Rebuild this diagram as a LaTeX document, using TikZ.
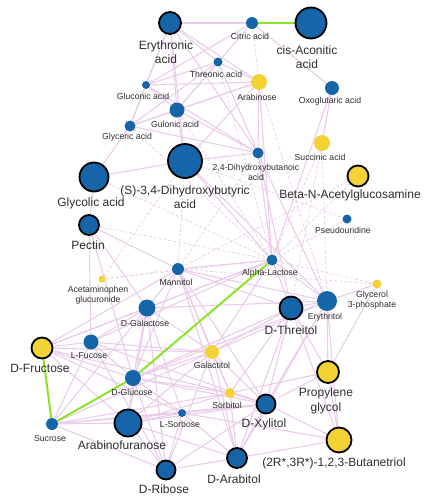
\documentclass[tikz,border=0pt]{standalone}
\usepackage{fontspec}
\setmainfont{Liberation Sans}
\usetikzlibrary{backgrounds}

\definecolor{metblue}{RGB}{22,101,168}
\definecolor{metyellow}{RGB}{242,210,52}
\definecolor{linkpink}{RGB}{234,204,234}
\definecolor{linkgreen}{RGB}{140,228,40}
\definecolor{labelgray}{RGB}{45,45,45}

\begin{document}
\begin{tikzpicture}[x=1pt, y=-1pt,
    met/.style={circle, inner sep=0pt, fill=metblue},
    ymet/.style={circle, inner sep=0pt, fill=metyellow},
    hub/.style={met, draw=black, line width=1.8pt},
    yhub/.style={ymet, draw=black, line width=1.8pt},
    lbl/.style={font=\fontsize{8.7}{10.2}\selectfont, text=labelgray, align=center, inner sep=0pt},
    biglbl/.style={font=\fontsize{12}{14.5}\selectfont, text=labelgray, align=center, inner sep=0pt},
    link/.style={draw=linkpink, line width=1.1pt},
    dlink/.style={draw=linkpink, line width=0.7pt, dash pattern=on 3pt off 2pt},
    glink/.style={draw=linkgreen, line width=2pt}
]
\useasboundingbox (0,0) rectangle (431,504);

% metabolites
\node[hub, minimum size=22pt] (ery) at (170,23) {};
\node[met, minimum size=12pt] (cit) at (252,23) {};
\node[hub, minimum size=31pt] (cis) at (311,23) {};
\node[met, minimum size=9pt] (thr) at (218,62) {};
\node[ymet, minimum size=16pt] (arab) at (259,82) {};
\node[met, minimum size=14pt] (oxo) at (332,88) {};
\node[met, minimum size=8pt] (glcn) at (146,85) {};
\node[met, minimum size=15pt] (guln) at (177,110) {};
\node[met, minimum size=11pt] (glyr) at (130,126) {};
\node[ymet, minimum size=16pt] (succ) at (322,143) {};
\node[met, minimum size=11pt] (dhba) at (258,153) {};
\node[hub, minimum size=34pt] (shb) at (185,161) {};
\node[hub, minimum size=29pt] (glyc) at (94,177) {};
\node[yhub, minimum size=21pt] (betan) at (358,176) {};
\node[hub, minimum size=20pt] (pect) at (89,225) {};
\node[met, minimum size=9pt] (pseu) at (347,219) {};
\node[met, minimum size=11pt] (alac) at (272,260) {};
\node[ymet, minimum size=7pt] (acet) at (102,279) {};
\node[met, minimum size=12pt] (mann) at (178,269) {};
\node[ymet, minimum size=9pt] (g3p) at (377,284) {};
\node[met, minimum size=20pt] (eryt) at (327,301) {};
\node[hub, minimum size=23pt] (thre) at (291,308) {};
\node[met, minimum size=17pt] (dgal) at (147,308) {};
\node[yhub, minimum size=21pt] (dfru) at (42,348) {};
\node[met, minimum size=15pt] (lfuc) at (91,342) {};
\node[ymet, minimum size=14pt] (galt) at (212,352) {};
\node[met, minimum size=16pt] (dglc) at (133,378) {};
\node[ymet, minimum size=10pt] (sorb) at (230,393) {};
\node[hub, minimum size=19pt] (dxyl) at (266,404) {};
\node[yhub, minimum size=22pt] (prop) at (328,372) {};
\node[met, minimum size=8pt] (lsor) at (182,413) {};
\node[met, minimum size=12pt] (sucr) at (52,424) {};
\node[hub, minimum size=27pt] (araf) at (128,423) {};
\node[hub, minimum size=19pt] (drib) at (166,470) {};
\node[hub, minimum size=20pt] (dara) at (237,458) {};
\node[yhub, minimum size=25pt] (buta) at (339,440) {};

% labels
\node[biglbl] (ery-l) at (166,52) {Erythronic\\acid};
\node[lbl] (cit-l) at (250,36) {Citric acid};
\node[biglbl] (cis-l) at (307,57) {cis-Aconitic\\acid};
\node[lbl] (thr-l) at (216,74) {Threonic acid};
\node[lbl] (arab-l) at (257,97) {Arabinose};
\node[lbl] (oxo-l) at (330,101) {Oxoglutaric acid};
\node[lbl] (glcn-l) at (143,96) {Gluconic acid};
\node[lbl] (guln-l) at (175,124) {Gulonic acid};
\node[lbl] (glyr-l) at (127,137) {Glyceric acid};
\node[lbl] (succ-l) at (320,157) {Succinic acid};
\node[lbl] (dhba-l) at (256,172) {2,4-Dihydroxybutanoic\\acid};
\node[biglbl] (shb-l) at (185,197) {(S)-3,4-Dihydroxybutyric\\acid};
\node[biglbl] (glyc-l) at (91,203) {Glycolic acid};
\node[biglbl] (betan-l) at (350,195) {Beta-N-Acetylglucosamine};
\node[biglbl] (pect-l) at (88,245) {Pectin};
\node[lbl] (pseu-l) at (343,230) {Pseudouridine};
\node[lbl] (alac-l) at (270,273) {Alpha-Lactose};
\node[lbl] (acet-l) at (98,295) {Acetaminophen\\glucuronide};
\node[lbl] (mann-l) at (176,282) {Mannitol};
\node[lbl] (g3p-l) at (372,300) {Glycerol\\3-phosphate};
\node[lbl] (eryt-l) at (325,317) {Erythritol};
\node[biglbl] (thre-l) at (291,330) {D-Threitol};
\node[lbl] (dgal-l) at (145,323) {D-Galactose};
\node[biglbl] (dfru-l) at (40,368) {D-Fructose};
\node[lbl] (lfuc-l) at (89,356) {L-Fucose};
\node[lbl] (galt-l) at (212,365) {Galactitol};
\node[lbl] (dglc-l) at (132,392) {D-Glucose};
\node[lbl] (sorb-l) at (227,405) {Sorbitol};
\node[biglbl] (dxyl-l) at (264,424) {D-Xylitol};
\node[biglbl] (prop-l) at (326,401) {Propylene\\glycol};
\node[lbl] (lsor-l) at (180,424) {L-Sorbose};
\node[lbl] (sucr-l) at (50,438) {Sucrose};
\node[biglbl] (araf-l) at (122,445) {Arabinofuranose};
\node[biglbl] (drib-l) at (164,489) {D-Ribose};
\node[biglbl] (dara-l) at (234,479) {D-Arabitol};
\node[biglbl] (buta-l) at (334,463) {(2R*,3R*)-1,2,3-Butanetriol};

% correlations
\begin{scope}[on background layer]
\foreach \a/\b in {ery/cit, ery/thr, ery/glcn, ery/guln, ery/glyr, ery/dhba, ery/arab, ery/shb,
    cit/glcn, cit/guln, cit/oxo, thr/glcn, thr/glyr, thr/guln, thr/arab, thr/dhba,
    glcn/arab, glcn/guln, glcn/glyr, glcn/dhba, guln/arab, guln/glyr, guln/dhba, guln/shb,
    glyr/dhba, glyr/glyc, glyr/arab, arab/dhba, arab/shb, arab/alac, oxo/succ, oxo/alac,
    shb/dhba, shb/glyc, shb/alac, shb/eryt, dhba/alac, dhba/eryt, dhba/thre,
    glyc/pect, pect/dgal, pect/lfuc, pect/mann, pect/dglc,
    mann/alac, mann/dgal, mann/dglc, mann/dfru, mann/galt, mann/thre, mann/sorb, mann/dxyl,
    mann/dara, mann/eryt, dgal/dfru, dgal/lfuc, dgal/dglc, dgal/galt, dgal/sucr, dgal/alac,
    dgal/araf, dgal/drib, dgal/lsor, dgal/eryt, dfru/lfuc, dfru/dglc, dfru/galt, dfru/alac,
    dfru/araf, dfru/lsor, dfru/sorb, lfuc/dglc, lfuc/galt, lfuc/sucr, lfuc/drib, lfuc/dxyl,
    lfuc/alac, dglc/galt, dglc/sorb, dglc/lsor, dglc/araf, dglc/drib, dglc/dxyl, dglc/thre,
    dglc/eryt, galt/alac, galt/sorb, galt/dxyl, galt/thre, galt/dara, galt/eryt, galt/sucr,
    galt/araf, sorb/dxyl, sorb/dara, sorb/araf, sorb/sucr, sorb/prop, sorb/thre,
    lsor/sucr, lsor/araf, lsor/drib, lsor/dxyl, lsor/dara, lsor/buta, sucr/araf, sucr/drib,
    sucr/dxyl, araf/drib, araf/dara, araf/dxyl, drib/dara, drib/dxyl, drib/galt,
    dara/dxyl, dara/buta, dara/thre, dara/eryt, dxyl/prop, dxyl/buta, dxyl/thre, dxyl/eryt,
    thre/eryt, thre/alac, thre/prop, thre/buta, eryt/g3p, eryt/prop, eryt/buta, eryt/alac,
    prop/buta, g3p/prop}
  \draw[link] (\a) -- (\b);
\foreach \a/\b in {cit/arab, arab/alac, dhba/alac, shb/mann, pect/alac, acet/mann, acet/alac,
    succ/alac, oxo/succ, betan/alac, pseu/alac, g3p/alac, g3p/mann, succ/thre, shb/acet,
    glyr/alac, guln/alac, thr/alac, dhba/mann, arab/eryt, dfru/sucr, glyc/alac, shb/pseu,
    succ/eryt, betan/mann}
  \draw[dlink] (\a) -- (\b);
\foreach \a/\b in {cit/cis, alac/dglc, dglc/sucr, dfru/sucr}
  \draw[glink] (\a) -- (\b);
\end{scope}
\end{tikzpicture}
\end{document}
